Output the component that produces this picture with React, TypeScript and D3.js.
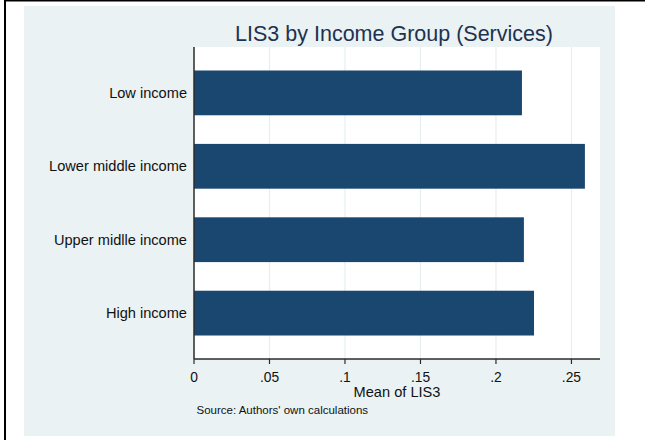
import React from "react";
import * as d3 from "d3";

const categories = ["Low income", "Lower middle income", "Upper midlle income", "High income"];
const values = [0.2172, 0.2589, 0.2185, 0.2252];
const xTicks = [0, 0.05, 0.1, 0.15, 0.2, 0.25];
const xTickLabels = ["0", ".05", ".1", ".15", ".2", ".25"];
const title = "LIS3 by Income Group (Services)";
const xTitle = "Mean of LIS3";
const note = "Source: Authors' own calculations";

const W = 645, H = 440;
const plot = { left: 194, right: 600, top: 47, bottom: 359 };
const font = "Arial, 'Liberation Sans', Helvetica, sans-serif";

export default function App() {
  const x = d3.scaleLinear().domain([0, 0.2689]).range([plot.left, plot.right]);
  const y = d3
    .scaleBand<string>()
    .domain(categories)
    .range([plot.top, plot.bottom])
    .paddingInner(0.39)
    .paddingOuter(0.32);

  return (
    <svg
      width={W}
      height={H}
      style={{ position: "absolute", left: 0, top: 0, background: "#ffffff" }}
      fontFamily={font}
    >
      <rect x={0} y={0} width={W} height={H} fill="#ffffff" />
      <rect x={24} y={6} width={591} height={430} fill="#eaf2f3" />
      <line x1={4} x2={W} y1={0.7} y2={0.7} stroke="#000" strokeWidth={1.5} />
      <line x1={5} x2={5} y1={0} y2={H} stroke="#000" strokeWidth={2} />

      <rect x={plot.left} y={plot.top} width={plot.right - plot.left} height={plot.bottom - plot.top} fill="#ffffff" />

      {xTicks.slice(1).map((t) => (
        <line key={"g" + t} x1={x(t)} x2={x(t)} y1={plot.top} y2={plot.bottom} stroke="#e6eef0" strokeWidth={1.2} />
      ))}

      {categories.map((c, i) => (
        <rect key={c} x={x(0)} y={y(c)!} width={x(values[i]) - x(0)} height={y.bandwidth()} fill="#1a476f" />
      ))}

      {categories.map((c) => (
        <text
          key={"l" + c}
          x={187}
          y={y(c)! + y.bandwidth() / 2}
          dy="0.35em"
          textAnchor="end"
          fontSize={14.6}
          fill="#111"
        >
          {c}
        </text>
      ))}

      <line x1={plot.left} x2={plot.left} y1={plot.top} y2={plot.bottom} stroke="#2b2b2b" strokeWidth={1.5} />
      <line x1={plot.left} x2={plot.right} y1={plot.bottom} y2={plot.bottom} stroke="#2b2b2b" strokeWidth={1.5} />

      {xTicks.map((t, i) => (
        <g key={"t" + t}>
          <line x1={x(t)} x2={x(t)} y1={plot.bottom} y2={plot.bottom + 5} stroke="#2b2b2b" strokeWidth={1.2} />
          <text x={x(t)} y={381.5} textAnchor="middle" fontSize={13.8} fill="#111">
            {xTickLabels[i]}
          </text>
        </g>
      ))}

      <text x={(plot.left + plot.right) / 2} y={397} textAnchor="middle" fontSize={14.6} fill="#111">
        {xTitle}
      </text>

      <text x={196.5} y={414} fontSize={11.5} fill="#111">
        {note}
      </text>

      <text x={(plot.left + plot.right) / 2 - 3} y={41} textAnchor="middle" fontSize={21.5} fill="#1e3150">
        {title}
      </text>
    </svg>
  );
}
